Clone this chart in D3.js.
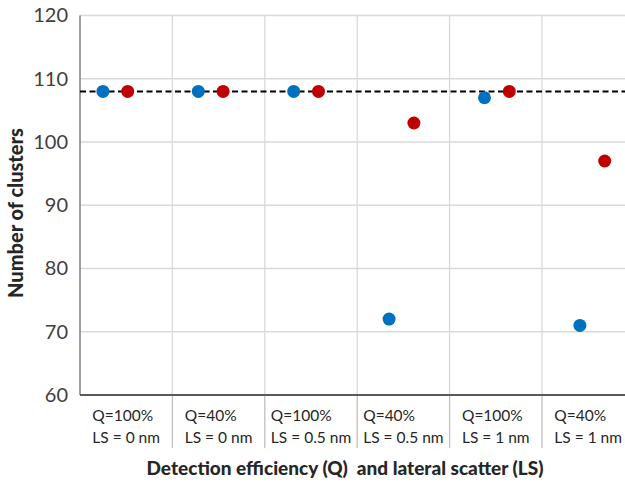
<!DOCTYPE html>
<html>
<head>
<meta charset="utf-8">
<script src="https://cdn.jsdelivr.net/npm/d3@7"></script>
<style>
  body { margin: 0; background: #fff; }
  svg { display: block; font-family: Lato, "Open Sans", sans-serif; }
</style>
</head>
<body>
<div id="chart"></div>
<script>
// categories (two line labels)
var qLabels = ["Q=100%", "Q=40%", "Q=100%", "Q=40%", "Q=100%", "Q=40%"];
var lsLabels = ["LS = 0 nm", "LS = 0 nm", "LS = 0.5 nm", "LS = 0.5 nm", "LS = 1 nm", "LS = 1 nm"];
// series values
var blueValues = [108, 108, 108, 72, 107, 71];
var redValues = [108, 108, 108, 103, 108, 97];
var referenceValue = 108;
var yTicks = [60, 70, 80, 90, 100, 110, 120];

var width = 625, height = 485;
var margin = {left: 80, top: 15.5, bottom: 395};
var step = 92.4;

var svg = d3.select("#chart").append("svg")
    .attr("width", width)
    .attr("height", height);

// x scale for categories (grid + labels)
var xScale = d3.scaleBand()
    .domain(d3.range(qLabels.length))
    .range([margin.left, margin.left + step * qLabels.length])
    .paddingInner(0).paddingOuter(0);

// x scale for the markers
var xDot = d3.scaleLinear()
    .domain([0, qLabels.length])
    .range([margin.left, margin.left + 95.4 * qLabels.length]);

var yScale = d3.scaleLinear()
    .domain([60, 120])
    .range([margin.bottom, margin.top]);

// horizontal gridlines
svg.append("g").selectAll("line")
    .data(yTicks.filter(function(d){ return d > 60; }))
    .enter().append("line")
    .attr("x1", margin.left).attr("x2", width)
    .attr("y1", function(d){ return yScale(d); })
    .attr("y2", function(d){ return yScale(d); })
    .attr("stroke", "#d9d9d9").attr("stroke-width", 1.3);

// vertical gridlines + dividers under axis
var bounds = d3.range(1, qLabels.length).map(function(i){ return xScale(i); });
svg.append("g").selectAll("line")
    .data(bounds)
    .enter().append("line")
    .attr("x1", function(d){ return d; }).attr("x2", function(d){ return d; })
    .attr("y1", margin.top).attr("y2", margin.bottom)
    .attr("stroke", "#d9d9d9").attr("stroke-width", 1.3);
svg.append("g").selectAll("line")
    .data(bounds)
    .enter().append("line")
    .attr("x1", function(d){ return d; }).attr("x2", function(d){ return d; })
    .attr("y1", margin.bottom).attr("y2", 448)
    .attr("stroke", "#bfbfbf").attr("stroke-width", 1.3);

// axes lines
svg.append("line")
    .attr("x1", margin.left).attr("x2", margin.left)
    .attr("y1", margin.top).attr("y2", margin.bottom)
    .attr("stroke", "#7f7f7f").attr("stroke-width", 1.5);
svg.append("line")
    .attr("x1", margin.left).attr("x2", width)
    .attr("y1", margin.bottom).attr("y2", margin.bottom)
    .attr("stroke", "#595959").attr("stroke-width", 1.8);

// y tick labels
var yAxis = d3.axisLeft(yScale).tickValues(yTicks).tickSize(0).tickPadding(12);
var yg = svg.append("g")
    .attr("transform", "translate(" + margin.left + ",0)")
    .call(yAxis);
yg.select(".domain").remove();
yg.selectAll("text")
    .attr("font-family", "Lato, 'Open Sans', sans-serif")
    .attr("font-size", 20)
    .attr("fill", "#404040");

// reference dashed line
svg.append("line")
    .attr("x1", margin.left).attr("x2", width)
    .attr("y1", yScale(referenceValue)).attr("y2", yScale(referenceValue))
    .attr("stroke", "#000").attr("stroke-width", 2)
    .attr("stroke-dasharray", "6,3.5");

// markers
svg.append("g").selectAll("circle")
    .data(blueValues)
    .enter().append("circle")
    .attr("cx", function(d, i){ return xDot(i + 0.24); })
    .attr("cy", function(d){ return yScale(d); })
    .attr("r", 6.5)
    .attr("fill", "#0070c0");
svg.append("g").selectAll("circle")
    .data(redValues)
    .enter().append("circle")
    .attr("cx", function(d, i){ return xDot(i + 0.5); })
    .attr("cy", function(d){ return yScale(d); })
    .attr("r", 6.5)
    .attr("fill", "#c00000");

// category labels: two lines, left aligned, block centred in band
var cat = svg.append("g").selectAll("g")
    .data(qLabels)
    .enter().append("g");
cat.append("text")
    .attr("class", "q")
    .attr("y", 421)
    .text(function(d){ return d; });
cat.append("text")
    .attr("class", "ls")
    .attr("y", 443)
    .text(function(d, i){ return lsLabels[i]; });
cat.selectAll("text")
    .attr("font-size", 15.5)
    .attr("fill", "#262626");
cat.each(function(d, i){
    var g = d3.select(this);
    var w = Math.max(g.select(".q").node().getComputedTextLength(),
                     g.select(".ls").node().getComputedTextLength());
    var x0 = xScale(i) + xScale.bandwidth() / 2 - w / 2;
    g.selectAll("text").attr("x", x0);
});

// axis titles
svg.append("text")
    .attr("x", 345).attr("y", 475)
    .attr("text-anchor", "middle")
    .attr("font-size", 19)
    .attr("font-weight", "900")
    .attr("fill", "#262626")
    .text("Detection efficiency (Q)  and lateral scatter (LS)")
    .attr("xml:space", "preserve")
    .style("white-space", "pre");

svg.append("text")
    .attr("transform", "translate(23,213) rotate(-90)")
    .attr("text-anchor", "middle")
    .attr("font-size", 20)
    .attr("font-weight", "900")
    .attr("fill", "#262626")
    .text("Number of clusters");
</script>
</body>
</html>
